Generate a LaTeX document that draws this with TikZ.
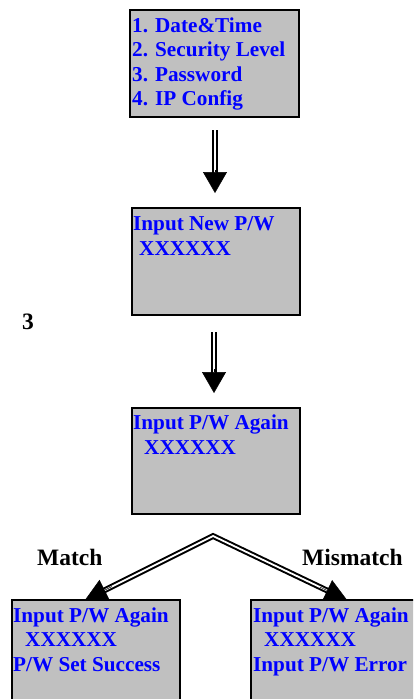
\documentclass[tikz,border=0pt]{standalone}
\usepackage{fontspec}
\setmainfont{Liberation Serif}
\usetikzlibrary{arrows.meta,calc}
\definecolor{boxgray}{RGB}{192,192,192}
\definecolor{txtblue}{RGB}{0,0,255}
\begin{document}
\begin{tikzpicture}[x=1pt,y=-1pt,
  screen/.style={draw=black, line width=2pt, fill=boxgray, inner sep=0pt, outer sep=0pt, minimum width=168pt, minimum height=107pt},
  scr/.style={anchor=base west, inner sep=0pt, text=txtblue, font=\fontsize{21.2}{24}\selectfont\bfseries},
  lbl/.style={anchor=base west, inner sep=0pt, font=\fontsize{23.5}{26}\selectfont\bfseries},
  dbl/.style={draw=black, double=white, line width=2pt, double distance=1.8pt},
  vhead/.style={-{Triangle[length=21pt,width=24pt]}, line width=0.5pt},
  dhead/.style={-{Triangle[length=22pt,width=23pt]}, line width=0.5pt}
]
\clip (0,0) rectangle (413,699);
\fill[white] (0,0) rectangle (413,699);

% screens
\node[screen, minimum width=169pt] (b1) at (214.5,63.5) {};
\node[screen] (b2) at (216,261.5) {};
\node[screen, minimum height=106pt] (b3) at (216,461) {};
\node[screen] (b4) at (96,653.5) {};
\node[screen] (b5) at (335,653.5) {};

% screen texts
\node[scr] (t11) at (132,32) {1. Date\&Time};
\node[scr] (t12) at (132,56) {2. Security Level};
\node[scr] (t13) at (132,81) {3. Password};
\node[scr] (t14) at (132,105) {4. IP Config};
\node[scr] (t21) at (133,230) {Input New P/W};
\node[scr] (t22) at (139,255) {XXXXXX};
\node[scr] (t31) at (133,429) {Input P/W Again};
\node[scr] (t32) at (144,454) {XXXXXX};
\node[scr] (t41) at (13,622) {Input P/W Again};
\node[scr] (t42) at (25,646) {XXXXXX};
\node[scr] (t43) at (13,671) {P/W Set Success};
\node[scr] (t51) at (253,622) {Input P/W Again};
\node[scr] (t52) at (264,646) {XXXXXX};
\node[scr] (t53) at (253,671) {Input P/W Error};

% labels
\node[lbl] (n3) at (22,329) {3};
\node[lbl] (m1) at (37,565) {Match};
\node[lbl] (m2) at (302,565) {Mismatch};

% vertical arrows
\coordinate (a1s) at (215,130);
\coordinate (a1m) at (215,172);
\coordinate (a1t) at (215,193);
\draw[dbl] (a1s) -- ($(a1m)+(0,2)$);
\draw[vhead] ($(a1m)+(0,-2)$) -- (a1t);

\coordinate (a2s) at (214,332);
\coordinate (a2m) at (214,371);
\coordinate (a2t) at (214,393);
\draw[dbl] (a2s) -- ($(a2m)+(0,2)$);
\draw[vhead] ($(a2m)+(0,-2)$) -- (a2t);

% branch arrows
\coordinate (apex) at (213,536);
\coordinate (tL) at (85,600);
\coordinate (tR) at (347,600);
\draw[dbl, line join=miter] ($(tL)!20pt!(apex)$) -- (apex) -- ($(tR)!20pt!(apex)$);
\draw[dhead] ($(tL)!30pt!(apex)$) -- (tL);
\draw[dhead] ($(tR)!30pt!(apex)$) -- (tR);
\end{tikzpicture}
\end{document}
